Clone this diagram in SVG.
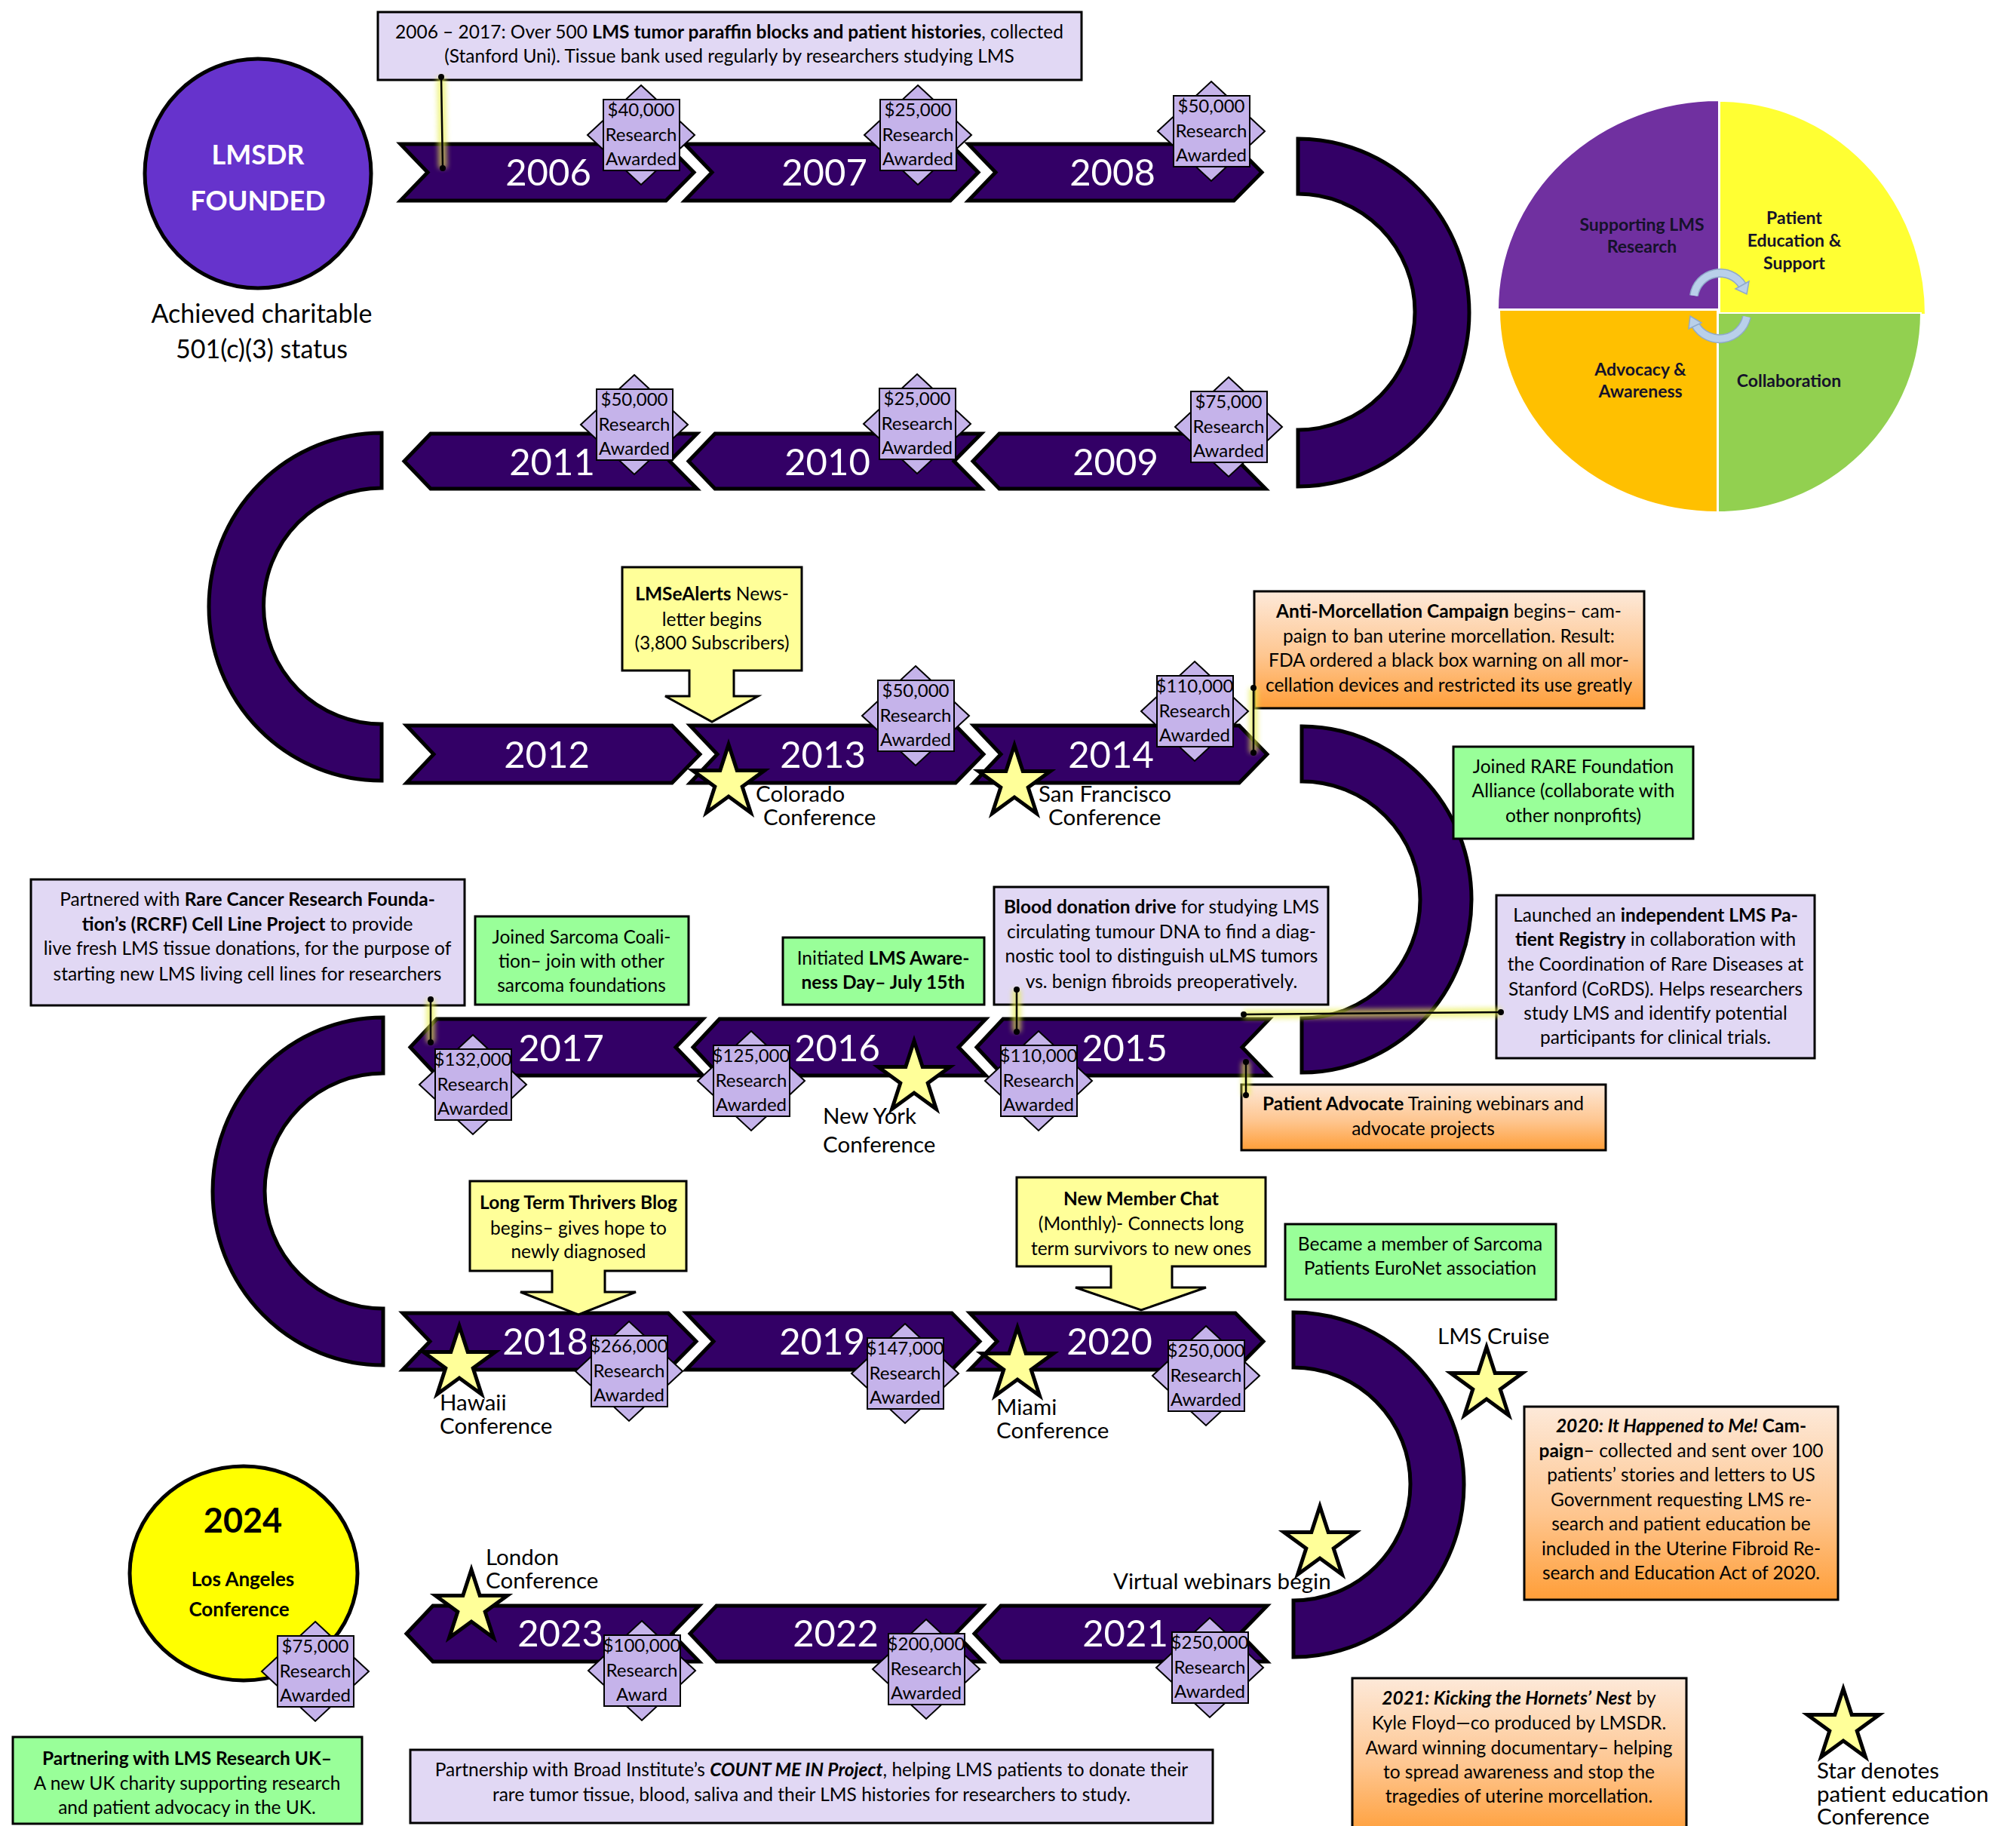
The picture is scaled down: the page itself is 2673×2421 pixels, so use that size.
<svg xmlns="http://www.w3.org/2000/svg" width="2673" height="2421" viewBox="0 0 2673 2421">
<style>
text{font-family:Lato,'Liberation Sans',sans-serif;fill:#000}
.yr{font-size:49px;fill:#fff;text-anchor:middle}
.bx{font-size:24.5px;text-anchor:middle}
.bd{font-size:24px;text-anchor:middle}
.lb{font-size:29.5px}
.b{font-weight:bold}
.bi{font-weight:bold;font-style:italic}
.arr{fill:#330066;stroke:#000;stroke-width:5;stroke-linejoin:miter}
.lav{fill:#E1D8F4;stroke:#000;stroke-width:3}
.grn{fill:#99FF99;stroke:#000;stroke-width:3}
.yel{fill:#FFFF99;stroke:#000;stroke-width:3}
.org{fill:url(#og);stroke:#000;stroke-width:3}
.con{stroke:#000;stroke-width:2.5;fill:none}
.glow{stroke:#E8EE50;stroke-width:12;opacity:.65;fill:none;filter:url(#blur)}
.pie{font-size:23px;font-weight:bold;text-anchor:middle;fill:#15122a}
</style>
<defs>
<linearGradient id="og" x1="0" y1="0" x2="0" y2="1"><stop offset="0" stop-color="#FDE9D9"/><stop offset=".55" stop-color="#FEC690"/><stop offset="1" stop-color="#FF9E38"/></linearGradient>
<filter id="blur" x="-50%" y="-50%" width="200%" height="200%"><feGaussianBlur stdDeviation="3"/></filter>
<g id="badge"><polygon points="0,-66 71,0 0,66 -71,0" fill="#C5B3EA" stroke="#000" stroke-width="2"/><rect x="-50" y="-47" width="101" height="94" fill="#C5B3EA" stroke="#000" stroke-width="2"/></g>
<polygon id="star" points="0,-50 11.2,-15.5 47.6,-15.5 18.2,5.9 29.4,40.5 0,19.1 -29.4,40.5 -18.2,5.9 -47.6,-15.5 -11.2,-15.5" fill="#FFFF99" stroke="#000" stroke-width="5"/>
</defs>
<rect width="2673" height="2421" fill="#fff"/>

<!-- U-turn arcs -->
<g id="arcs">
<path class="arr" d="M1721,184 A227,230.5 0 0 1 1721,645 L1721,570 A155,156.5 0 0 0 1721,257 Z"/>
<path class="arr" d="M506,574 A229,230.5 0 0 0 506,1035 L506,960 A156.5,156.5 0 0 1 506,647 Z"/>
<path class="arr" d="M1726,963 A225,229.5 0 0 1 1726,1422 L1726,1350 A157,157 0 0 0 1726,1036 Z"/>
<path class="arr" d="M508,1349 A226,230.5 0 0 0 508,1810 L508,1735 A157,156 0 0 1 508,1423 Z"/>
<path class="arr" d="M1715,1740 A226,228.5 0 0 1 1715,2197 L1715,2122 A155,154.5 0 0 0 1715,1813 Z"/>
</g>

<!-- Year arrows -->
<g id="y2006"><polygon class="arr" points="531,191 883,191 920,228.5 883,266 531,266 567,228.5"/><text class="yr" x="727" y="246">2006</text></g>
<g id="y2007"><polygon class="arr" points="908,191 1260,191 1297,228.5 1260,266 908,266 944,228.5"/><text class="yr" x="1093" y="246">2007</text></g>
<g id="y2008"><polygon class="arr" points="1284,191 1636,191 1673,228.5 1636,266 1284,266 1320,228.5"/><text class="yr" x="1475" y="246">2008</text></g>
<g id="y2011"><polygon class="arr" points="536,611.5 571,575 924,575 888,611.5 924,648 571,648"/><text class="yr" x="732" y="630">2011</text></g>
<g id="y2010"><polygon class="arr" points="913,611.5 948,575 1301,575 1265,611.5 1301,648 948,648"/><text class="yr" x="1097" y="630">2010</text></g>
<g id="y2009"><polygon class="arr" points="1290,611.5 1325,575 1678,575 1642,611.5 1678,648 1325,648"/><text class="yr" x="1479" y="630">2009</text></g>
<g id="y2012"><polygon class="arr" points="539,962 891,962 928,1000 891,1038 539,1038 575,1000"/><text class="yr" x="725" y="1018">2012</text></g>
<g id="y2013"><polygon class="arr" points="915,962 1267,962 1304,1000 1267,1038 915,1038 951,1000"/><text class="yr" x="1091" y="1018">2013</text></g>
<g id="y2014"><polygon class="arr" points="1291,962 1643,962 1680,1000 1643,1038 1291,1038 1327,1000"/><text class="yr" x="1473" y="1018">2014</text></g>
<g id="y2017"><polygon class="arr" points="544,1388.5 579,1351 932,1351 896,1388.5 932,1426 579,1426"/><text class="yr" x="744" y="1407">2017</text></g>
<g id="y2016"><polygon class="arr" points="919,1388.5 954,1351 1307,1351 1271,1388.5 1307,1426 954,1426"/><text class="yr" x="1110" y="1407">2016</text></g>
<g id="y2015"><polygon class="arr" points="1295,1388.5 1330,1351 1683,1351 1647,1388.5 1683,1426 1330,1426"/><text class="yr" x="1491" y="1407">2015</text></g>
<g id="y2018"><polygon class="arr" points="534,1741 886,1741 923,1778.5 886,1816 534,1816 570,1778.5"/><text class="yr" x="723" y="1796">2018</text></g>
<g id="y2019"><polygon class="arr" points="910,1741 1262,1741 1299,1778.5 1262,1816 910,1816 946,1778.5"/><text class="yr" x="1090" y="1796">2019</text></g>
<g id="y2020"><polygon class="arr" points="1286,1741 1638,1741 1675,1778.5 1638,1816 1286,1816 1322,1778.5"/><text class="yr" x="1471" y="1796">2020</text></g>
<g id="y2023"><polygon class="arr" points="539,2166 574,2129 927,2129 891,2166 927,2203 574,2203"/><text class="yr" x="743" y="2183">2023</text></g>
<g id="y2022"><polygon class="arr" points="915,2166 950,2129 1303,2129 1267,2166 1303,2203 950,2203"/><text class="yr" x="1108" y="2183">2022</text></g>
<g id="y2021"><polygon class="arr" points="1292,2166 1327,2129 1680,2129 1644,2166 1680,2203 1327,2203"/><text class="yr" x="1492" y="2183">2021</text></g>

<!-- Founded circle -->
<g id="founded">
<ellipse cx="342" cy="230" rx="150" ry="152" fill="#6633CC" stroke="#000" stroke-width="5"/>
<text x="342" y="218" font-size="36" font-weight="bold" text-anchor="middle" style="fill:#fff">LMSDR</text>
<text x="342" y="279" font-size="36" font-weight="bold" text-anchor="middle" style="fill:#fff">FOUNDED</text>
<text x="347" y="428" font-size="34" text-anchor="middle">Achieved charitable</text>
<text x="347" y="475" font-size="34" text-anchor="middle">501(c)(3) status</text>
</g>

<!-- Mission pie -->
<g id="mission">
<path d="M2279,410 H1986 A293,277 0 0 1 2279,133 Z" fill="#7030A0" stroke="#fff" stroke-width="2"/>
<path d="M2280,417 V134 A273,283 0 0 1 2553,417 Z" fill="#FFFF33" stroke="#fff" stroke-width="2"/>
<path d="M2277,411 H1988 A289,268 0 0 0 2277,679 Z" fill="#FFC000" stroke="#fff" stroke-width="2"/>
<path d="M2278,415 H2547 A269,264 0 0 1 2278,679 Z" fill="#92D050" stroke="#fff" stroke-width="2"/>
<path d="M2246,392 A35,35 0 0 1 2310,378" stroke="#8FA9C9" stroke-width="12" fill="none"/>
<path d="M2246,392 A35,35 0 0 1 2310,378" stroke="#B9D0EA" stroke-width="9" fill="none"/>
<polygon points="2316,390 2319,373 2301,383" fill="#B9D0EA" stroke="#8FA9C9" stroke-width="1.5"/>
<path d="M2316,420 A37,37 0 0 1 2248,431" stroke="#8FA9C9" stroke-width="12" fill="none"/>
<path d="M2316,420 A37,37 0 0 1 2248,431" stroke="#B9D0EA" stroke-width="9" fill="none"/>
<polygon points="2241,419 2239,436 2256,428" fill="#B9D0EA" stroke="#8FA9C9" stroke-width="1.5"/>
<text class="pie" x="2177" y="306">Supporting LMS</text>
<text class="pie" x="2177" y="335">Research</text>
<text class="pie" x="2379" y="297">Patient</text>
<text class="pie" x="2379" y="327">Education &amp;</text>
<text class="pie" x="2379" y="357">Support</text>
<text class="pie" x="2175" y="498">Advocacy &amp;</text>
<text class="pie" x="2175" y="527">Awareness</text>
<text class="pie" x="2372" y="513">Collaboration</text>
</g>

<!-- 2024 circle -->
<g id="la2024">
<ellipse cx="323" cy="2086" rx="151" ry="142" fill="#FFFF00" stroke="#000" stroke-width="5"/>
<text x="322" y="2032" font-size="45" font-weight="bold" text-anchor="middle">2024</text>
<text x="322" y="2103" font-size="26" font-weight="bold" text-anchor="middle">Los Angeles</text>
<text x="317" y="2143" font-size="26" font-weight="bold" text-anchor="middle">Conference</text>
</g>

<!-- Info boxes -->
<g id="tissue-bank"><rect class="lav" x="501" y="16" width="933" height="90"/>
<text class="bx" x="967" y="51">2006 – 2017: Over 500 <tspan class="b">LMS tumor paraffin blocks and patient histories</tspan>, collected</text>
<text class="bx" x="967" y="83">(Stanford Uni). Tissue bank used regularly by researchers studying LMS</text></g>

<g id="newsletter"><path class="yel" d="M825,752 H1063 V889 H973 V923 H1005 L944,957 L882,923 H914 V889 H825 Z"/>
<text class="bx" x="944" y="796"><tspan class="b">LMSeAlerts</tspan> News-</text>
<text class="bx" x="944" y="830">letter begins</text>
<text class="bx" x="944" y="861">(3,800 Subscribers)</text></g>

<g id="anti-morcellation"><rect class="org" x="1663" y="784" width="517" height="155"/>
<text class="bx" x="1921" y="819"><tspan class="b">Anti-Morcellation Campaign</tspan> begins– cam-</text>
<text class="bx" x="1921" y="852">paign to ban uterine morcellation. Result:</text>
<text class="bx" x="1921" y="884">FDA ordered a black box warning on all mor-</text>
<text class="bx" x="1921" y="917">cellation devices and restricted its use greatly</text></g>

<g id="rare-alliance"><rect class="grn" x="1927" y="990" width="318" height="122"/>
<text class="bx" x="2086" y="1025">Joined RARE Foundation</text>
<text class="bx" x="2086" y="1057">Alliance (collaborate with</text>
<text class="bx" x="2086" y="1090">other nonprofits)</text></g>

<g id="rcrf"><rect class="lav" x="41" y="1166" width="575" height="167"/>
<text class="bx" x="328" y="1201">Partnered with <tspan class="b">Rare Cancer Research Founda-</tspan></text>
<text class="bx" x="328" y="1234"><tspan class="b">tion’s (RCRF) Cell Line Project</tspan> to provide</text>
<text class="bx" x="328" y="1266">live fresh LMS tissue donations, for the purpose of</text>
<text class="bx" x="328" y="1300">starting new LMS living cell lines for researchers</text></g>

<g id="sarcoma-coalition"><rect class="grn" x="630" y="1215" width="283" height="117"/>
<text class="bx" x="771" y="1251">Joined Sarcoma Coali-</text>
<text class="bx" x="771" y="1283">tion– join with other</text>
<text class="bx" x="771" y="1315">sarcoma foundations</text></g>

<g id="awareness-day"><rect class="grn" x="1038" y="1243" width="267" height="89"/>
<text class="bx" x="1171" y="1279">Initiated <tspan class="b">LMS Aware-</tspan></text>
<text class="bx b" x="1171" y="1311">ness Day– July 15th</text></g>

<g id="blood-drive"><rect class="lav" x="1318" y="1176" width="443" height="156"/>
<text class="bx" x="1540" y="1211"><tspan class="b">Blood donation drive</tspan> for studying LMS</text>
<text class="bx" x="1540" y="1244">circulating tumour DNA to find a diag-</text>
<text class="bx" x="1540" y="1276">nostic tool to distinguish uLMS tumors</text>
<text class="bx" x="1540" y="1310">vs. benign fibroids preoperatively.</text></g>

<g id="registry"><rect class="lav" x="1984" y="1187" width="422" height="216"/>
<text class="bx" x="2195" y="1222">Launched an <tspan class="b">independent LMS Pa-</tspan></text>
<text class="bx" x="2195" y="1254"><tspan class="b">tient Registry</tspan> in collaboration with</text>
<text class="bx" x="2195" y="1287">the Coordination of Rare Diseases at</text>
<text class="bx" x="2195" y="1320">Stanford (CoRDS). Helps researchers</text>
<text class="bx" x="2195" y="1352">study LMS and identify potential</text>
<text class="bx" x="2195" y="1384">participants for clinical trials.</text></g>

<g id="patient-advocate"><rect class="org" x="1646" y="1438" width="483" height="87"/>
<text class="bx" x="1887" y="1472"><tspan class="b">Patient Advocate</tspan> Training webinars and</text>
<text class="bx" x="1887" y="1505">advocate projects</text></g>

<g id="thrivers-blog"><path class="yel" d="M623,1566 H910 V1685 H802 V1713 H843 L767,1743 L690,1713 H732 V1685 H623 Z"/>
<text class="bx b" x="767" y="1603">Long Term Thrivers Blog</text>
<text class="bx" x="767" y="1637">begins– gives hope to</text>
<text class="bx" x="767" y="1668">newly diagnosed</text></g>

<g id="member-chat"><path class="yel" d="M1348,1561 H1678 V1679 H1554 V1707 H1599 L1513,1737 L1426,1707 H1473 V1679 H1348 Z"/>
<text class="bx b" x="1513" y="1598">New Member Chat</text>
<text class="bx" x="1513" y="1631">(Monthly)- Connects long</text>
<text class="bx" x="1513" y="1664">term survivors to new ones</text></g>

<g id="euronet"><rect class="grn" x="1704" y="1623" width="359" height="100"/>
<text class="bx" x="1883" y="1658">Became a member of Sarcoma</text>
<text class="bx" x="1883" y="1690">Patients EuroNet association</text></g>

<g id="it-happened"><rect class="org" x="2021" y="1865" width="416" height="256"/>
<text class="bx" x="2229" y="1899"><tspan class="bi">2020: It Happened to Me!</tspan><tspan class="b"> Cam-</tspan></text>
<text class="bx" x="2229" y="1932"><tspan class="b">paign</tspan>– collected and sent over 100</text>
<text class="bx" x="2229" y="1964">patients’ stories and letters to US</text>
<text class="bx" x="2229" y="1997">Government requesting LMS re-</text>
<text class="bx" x="2229" y="2029">search and patient education be</text>
<text class="bx" x="2229" y="2062">included in the Uterine Fibroid Re-</text>
<text class="bx" x="2229" y="2094">search and Education Act of 2020.</text></g>

<g id="hornets-nest"><rect class="org" x="1793" y="2225" width="443" height="210"/>
<text class="bx" x="2014" y="2260"><tspan class="bi">2021: Kicking the Hornets’ Nest</tspan> by</text>
<text class="bx" x="2014" y="2293">Kyle Floyd—co produced by LMSDR.</text>
<text class="bx" x="2014" y="2326">Award winning documentary– helping</text>
<text class="bx" x="2014" y="2358">to spread awareness and stop the</text>
<text class="bx" x="2014" y="2390">tragedies of uterine morcellation.</text></g>

<g id="lms-uk"><rect class="grn" x="17" y="2303" width="463" height="115"/>
<text class="bx b" x="248" y="2340">Partnering with LMS Research UK–</text>
<text class="bx" x="248" y="2373">A new UK charity supporting research</text>
<text class="bx" x="248" y="2405">and patient advocacy in the UK.</text></g>

<g id="count-me-in"><rect class="lav" x="544" y="2320" width="1064" height="97"/>
<text class="bx" x="1076" y="2355">Partnership with Broad Institute’s <tspan class="bi">COUNT ME IN Project</tspan>, helping LMS patients to donate their</text>
<text class="bx" x="1076" y="2388">rare tumor tissue, blood, saliva and their LMS histories for researchers to study.</text></g>

<!-- Connectors -->
<g id="connectors">
<path class="glow" d="M585,102 L587,223 M1662,912 V998 M571,1325 V1382 M1348,1312 V1368 M1649,1345 L1990,1342 M1652,1408 V1452"/>
<path class="con" d="M585,102 L587,223 M1662,912 V998 M571,1325 V1382 M1348,1312 V1368 M1649,1345 L1990,1342 M1652,1408 V1452"/>
<g fill="#000">
<circle cx="585" cy="102" r="4"/><circle cx="587" cy="223" r="4"/>
<circle cx="1662" cy="912" r="4"/><circle cx="1662" cy="998" r="4"/>
<circle cx="571" cy="1325" r="4"/><circle cx="571" cy="1382" r="4"/>
<circle cx="1348" cy="1312" r="4"/><circle cx="1348" cy="1368" r="4"/>
<circle cx="1649" cy="1345" r="4"/><circle cx="1990" cy="1342" r="4"/>
<circle cx="1652" cy="1408" r="4"/><circle cx="1652" cy="1452" r="4"/>
</g>
</g>

<!-- Research award badges -->
<g id="award-2006" transform="translate(850,179)"><use href="#badge"/><text class="bd" y="-25">$40,000</text><text class="bd" y="8">Research</text><text class="bd" y="40">Awarded</text></g>
<g id="award-2007" transform="translate(1217,179)"><use href="#badge"/><text class="bd" y="-25">$25,000</text><text class="bd" y="8">Research</text><text class="bd" y="40">Awarded</text></g>
<g id="award-2008" transform="translate(1606,174)"><use href="#badge"/><text class="bd" y="-25">$50,000</text><text class="bd" y="8">Research</text><text class="bd" y="40">Awarded</text></g>
<g id="award-2009" transform="translate(1629,566)"><use href="#badge"/><text class="bd" y="-25">$75,000</text><text class="bd" y="8">Research</text><text class="bd" y="40">Awarded</text></g>
<g id="award-2010" transform="translate(1216,562)"><use href="#badge"/><text class="bd" y="-25">$25,000</text><text class="bd" y="8">Research</text><text class="bd" y="40">Awarded</text></g>
<g id="award-2011" transform="translate(841,563)"><use href="#badge"/><text class="bd" y="-25">$50,000</text><text class="bd" y="8">Research</text><text class="bd" y="40">Awarded</text></g>
<g id="award-2013" transform="translate(1214,949)"><use href="#badge"/><text class="bd" y="-25">$50,000</text><text class="bd" y="8">Research</text><text class="bd" y="40">Awarded</text></g>
<g id="award-2014" transform="translate(1584,943)"><use href="#badge"/><text class="bd" y="-25">$110,000</text><text class="bd" y="8">Research</text><text class="bd" y="40">Awarded</text></g>
<g id="award-2017" transform="translate(627,1438)"><use href="#badge"/><text class="bd" y="-25">$132,000</text><text class="bd" y="8">Research</text><text class="bd" y="40">Awarded</text></g>
<g id="award-2016" transform="translate(996,1433)"><use href="#badge"/><text class="bd" y="-25">$125,000</text><text class="bd" y="8">Research</text><text class="bd" y="40">Awarded</text></g>
<g id="award-2015" transform="translate(1377,1433)"><use href="#badge"/><text class="bd" y="-25">$110,000</text><text class="bd" y="8">Research</text><text class="bd" y="40">Awarded</text></g>
<g id="award-2018" transform="translate(834,1818)"><use href="#badge"/><text class="bd" y="-25">$266,000</text><text class="bd" y="8">Research</text><text class="bd" y="40">Awarded</text></g>
<g id="award-2019" transform="translate(1200,1821)"><use href="#badge"/><text class="bd" y="-25">$147,000</text><text class="bd" y="8">Research</text><text class="bd" y="40">Awarded</text></g>
<g id="award-2020" transform="translate(1599,1824)"><use href="#badge"/><text class="bd" y="-25">$250,000</text><text class="bd" y="8">Research</text><text class="bd" y="40">Awarded</text></g>
<g id="award-2023" transform="translate(851,2215)"><use href="#badge"/><text class="bd" y="-25">$100,000</text><text class="bd" y="8">Research</text><text class="bd" y="40">Award</text></g>
<g id="award-2022" transform="translate(1228,2213)"><use href="#badge"/><text class="bd" y="-25">$200,000</text><text class="bd" y="8">Research</text><text class="bd" y="40">Awarded</text></g>
<g id="award-2021" transform="translate(1604,2211)"><use href="#badge"/><text class="bd" y="-25">$250,000</text><text class="bd" y="8">Research</text><text class="bd" y="40">Awarded</text></g>
<g id="award-2024" transform="translate(418,2216)"><use href="#badge"/><text class="bd" y="-25">$75,000</text><text class="bd" y="8">Research</text><text class="bd" y="40">Awarded</text></g>

<!-- Conference stars -->
<g id="conf-colorado"><use href="#star" x="966" y="1037"/><text class="lb" x="1002" y="1063">Colorado</text><text class="lb" x="1012" y="1094">Conference</text></g>
<g id="conf-sf"><use href="#star" x="1345" y="1038"/><text class="lb" x="1377" y="1063">San Francisco</text><text class="lb" x="1390" y="1094">Conference</text></g>
<g id="conf-ny"><use href="#star" x="1212" y="1430"/><text class="lb" x="1091" y="1490">New York</text><text class="lb" x="1091" y="1528">Conference</text></g>
<g id="conf-hawaii"><use href="#star" x="609" y="1808"/><text class="lb" x="583" y="1870">Hawaii</text><text class="lb" x="583" y="1901">Conference</text></g>
<g id="conf-miami"><use href="#star" x="1349" y="1810"/><text class="lb" x="1321" y="1876">Miami</text><text class="lb" x="1321" y="1907">Conference</text></g>
<g id="lms-cruise"><use href="#star" x="1971" y="1836"/><text class="lb" x="1906" y="1782">LMS Cruise</text></g>
<g id="virtual-webinars"><use href="#star" x="1750" y="2047"/><text class="lb" x="1476" y="2107" font-size="30">Virtual webinars begin</text></g>
<g id="conf-london"><use href="#star" x="625" y="2131"/><text class="lb" x="644" y="2075">London</text><text class="lb" x="644" y="2106">Conference</text></g>
<g id="legend"><use href="#star" x="2444" y="2289"/><text class="lb" x="2409" y="2358">Star denotes</text><text class="lb" x="2409" y="2389">patient education</text><text class="lb" x="2409" y="2419">Conference</text></g>
</svg>
